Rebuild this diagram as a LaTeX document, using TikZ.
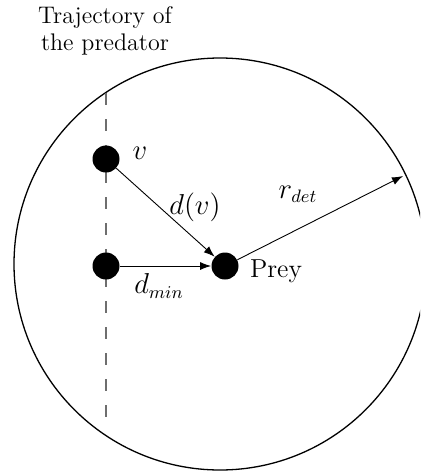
\documentclass[tikz,border=0pt]{standalone}
\usetikzlibrary{arrows.meta,positioning}
\definecolor{predGray}{HTML}{6E6E6E}

\begin{document}
\begin{tikzpicture}[x=0.5pt,y=-0.5pt,>=Latex,line join=round]
\useasboundingbox (0,0) rectangle (420,472);
\clip (0,0) rectangle (420,472);
\tikzset{agent/.style={circle,fill=black,inner sep=0pt,minimum size=13.5pt},lbl/.style={font=\fontsize{12}{13.5}\selectfont,inner sep=1pt},mlbl/.style={font=\fontsize{13.5}{15}\selectfont,inner sep=1pt},link/.style={draw=black,line width=0.45pt,-{Latex[length=5.5pt,width=4pt]}}}
% detection range
\draw[line width=0.65pt] (220,264) circle[radius=103pt];
% trajectory of the predator
\node[lbl,align=center] (traj) at (105,31) {Trajectory of\\the predator};
\coordinate (trajtop) at (106,93); \coordinate (trajbot) at (106,425);
\draw[predGray,line width=0.6pt,dash pattern=on 6pt off 7pt] (trajtop) -- (trajbot);
\node[agent] (v) at (106,159) {}; \node[agent] (vmin) at (106,266) {}; \node[agent] (prey) at (225,266) {};
\coordinate (rim) at (403,176);
\draw[link] (v) -- (prey); \draw[link] (vmin) -- (prey); \draw[link] (prey) -- (rim);
\node[mlbl] (vl) at (140,153) {$v$}; \node[mlbl] (dvl) at (195,207) {$d(v)$}; \node[mlbl] (dminl) at (159,286) {$d_{min}$};
\node[lbl,font=\fontsize{13}{15}\selectfont] (preyl) at (276,271) {Prey}; \node[mlbl] (rdetl) at (298,194) {$r_{det}$};
\end{tikzpicture}
\end{document}
